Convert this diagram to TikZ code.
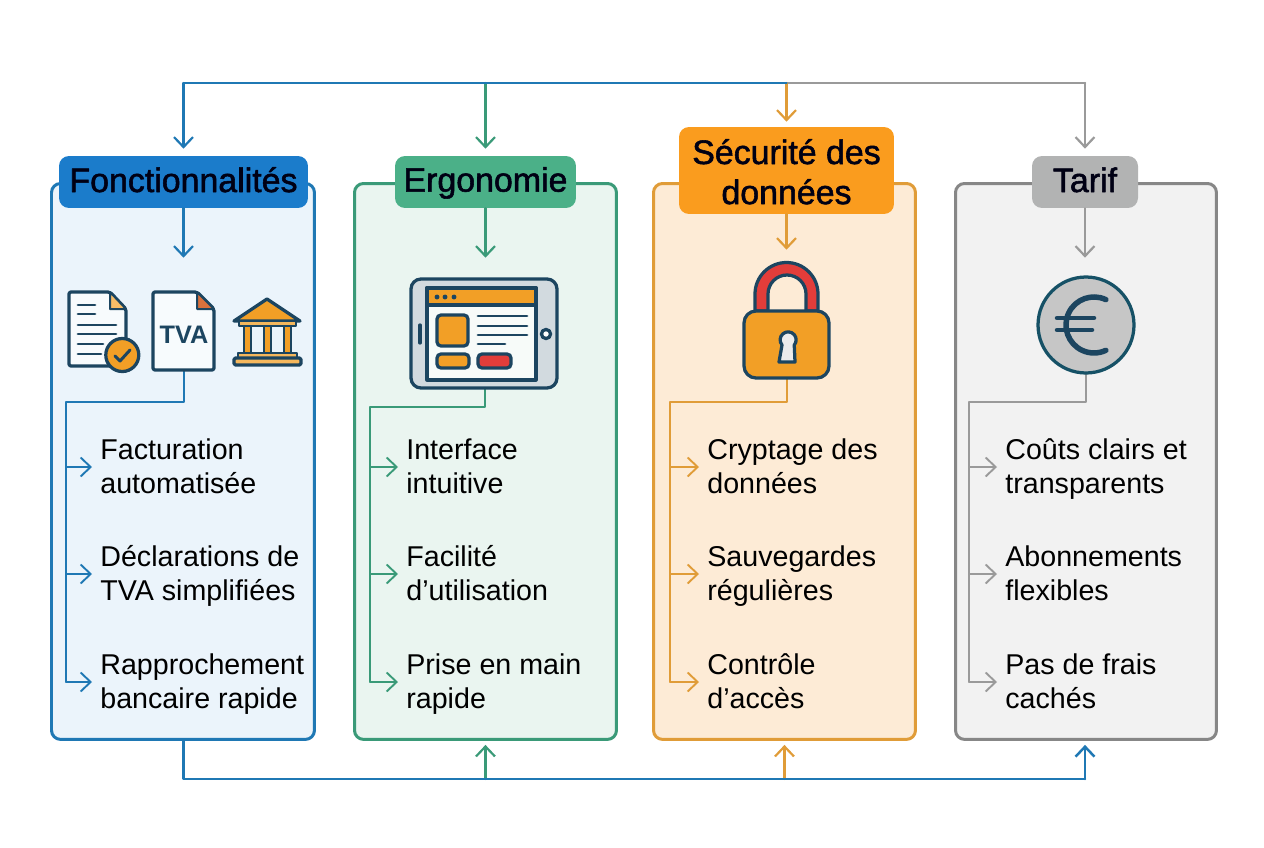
\documentclass[tikz,border=0pt]{standalone}
\usepackage{fontspec}
\setmainfont{Liberation Sans}
\newfontfamily\headfont[FakeBold=1.6]{Liberation Sans}
\usetikzlibrary{arrows.meta, calc}
\definecolor{lineblue}{HTML}{1F78B4}
\definecolor{linegreen}{HTML}{3A9A78}
\definecolor{lineorange}{HTML}{E09C38}
\definecolor{linegray}{HTML}{9A9A9A}
\definecolor{headblue}{HTML}{1B7CCB}
\definecolor{headgreen}{HTML}{4BB088}
\definecolor{headorange}{HTML}{FA9C1E}
\definecolor{headgray}{HTML}{B2B3B3}
\definecolor{fillblue}{HTML}{EBF4FB}
\definecolor{fillgreen}{HTML}{EAF5F0}
\definecolor{fillorange}{HTML}{FDEBD6}
\definecolor{fillgray}{HTML}{F2F2F2}
\definecolor{icondark}{HTML}{1C4560}
\definecolor{iconorange}{HTML}{F29F26}
\definecolor{iconred}{HTML}{E23D3A}
\definecolor{iconfold}{HTML}{D9713C}
\newcommand\vstrut[2]{\rule[-#2]{0pt}{\dimexpr#1+#2\relax}}
\tikzset{
  card/.style={draw=line#1, fill=fill#1, line width=0.06cm, rounded corners=0.18cm, anchor=north west, inner sep=0pt},
  header/.style={fill=head#1, rounded corners=0.2cm, inner sep=0pt, align=center, text=black!92!blue,
    font=\headfont\fontsize{19.3}{22.8}\selectfont},
  item/.style={anchor=west, align=left, inner ysep=0pt, inner xsep=0.16cm, text=black,
    font=\fontsize{16.3}{19.9}\selectfont},
  iconbox/.style={inner sep=0pt},
  link/.style={draw=line#1, line width=0.044cm},
  bus/.style={draw=line#1, line width=0.05cm},
  branch/.style={draw=line#1, line width=0.038cm},
  icon/.style={draw=icondark, line width=0.065cm},
}
\begin{document}
\begin{tikzpicture}[line cap=round,line join=round,>={Straight Barb[length=0.2cm,width=0.38cm]},x=0.02cm,y=-0.02cm]
\useasboundingbox (0,0) rectangle (1264,848);
% cards
\node[card=blue, minimum width=5.26cm, minimum height=11.12cm] (cardF) at (50,182) {};
\node[card=green, minimum width=5.24cm, minimum height=11.12cm] (cardE) at (353,182) {};
\node[card=orange, minimum width=5.24cm, minimum height=11.12cm] (cardS) at (652,182) {};
\node[card=gray, draw=black!47, minimum width=5.22cm, minimum height=11.12cm] (cardT) at (954,182) {};
% headers
\node[header=blue, minimum width=4.98cm, minimum height=1.04cm] (headF) at (183.5,182) {\vstrut{15pt}{3.6pt}Fonctionnalités};
\node[header=green, minimum width=3.62cm, minimum height=1.04cm] (headE) at (485.5,182) {\vstrut{15pt}{3.6pt}Ergonomie};
\node[header=orange, minimum width=4.3cm, minimum height=1.74cm] (headS) at (786.5,170.5) {\vstrut{18pt}{0pt}Sécurité des\\données\vstrut{0pt}{2.6pt}};
\node[header=gray, minimum width=2.12cm, minimum height=1.04cm] (headT) at (1085,182) {\vstrut{15pt}{3.6pt}Tarif};
% icon places
\node[iconbox, minimum width=1.22cm, minimum height=1.56cm] (iconF) at (184,331) {};
\node[iconbox, minimum width=2.92cm, minimum height=2.18cm] (iconE) at (485,333.5) {};
\node[iconbox, minimum width=1.7cm, minimum height=2.3cm] (iconS) at (787,320.5) {};
\node[iconbox, minimum width=1.92cm, minimum height=1.92cm] (iconT) at (1086,325) {};
% items
\foreach \col/\xpos/\a/\b/\c in {
  F/92/{Facturation\\automatisée}/{Déclarations de\\TVA simplifiées}/{Rapprochement\\bancaire rapide},
  E/398/{Interface\\intuitive}/{Facilité\\d’utilisation}/{Prise en main\\rapide},
  S/699/{Cryptage des\\données}/{Sauvegardes\\régulières}/{Contrôle\\d’accès},
  T/997/{Coûts clairs et\\transparents}/{Abonnements\\flexibles}/{Pas de frais\\cachés}}{
  \node[item] (item\col1) at (\xpos,467) {\vstrut{15pt}{0pt}\a\vstrut{0pt}{4.2pt}};
  \node[item] (item\col2) at (\xpos,574) {\vstrut{15pt}{0pt}\b\vstrut{0pt}{4.2pt}};
  \node[item] (item\col3) at (\xpos,682) {\vstrut{15pt}{0pt}\c\vstrut{0pt}{4.2pt}};
}
% top bus
\coordinate (topL) at (183.5,83);
\coordinate (topE) at (485.5,83);
\coordinate (topM) at (786.5,83);
\coordinate (topR) at (1085,83);
\draw[bus=gray] (topM) -- (topR);
\draw[link=blue,->,shorten >=0.14cm] (topL) -- (headF.north);
\draw[link=green,->,shorten >=0.14cm] (topE) -- (headE.north);
\draw[link=orange,->,shorten >=0.1cm] (topM) -- (headS.north);
\draw[link=gray,->,shorten >=0.14cm] (topR) -- (headT.north);
\draw[bus=blue] (topL) -- (topM);
% header to icon
\draw[link=blue,->,shorten >=0.68cm] (headF.south) -- (headF.south |- iconF.north);
\draw[link=green,->,shorten >=0.42cm] (headE.south) -- (headE.south |- iconE.north);
\draw[link=orange,->,shorten >=0.26cm] (headS.south) -- (headS.south |- iconS.north);
\draw[link=gray,->,shorten >=0.38cm] (headT.south) -- (headT.south |- iconT.north);
% branches
\coordinate (spineF) at (66,402);
\coordinate (spineE) at (370,407);
\coordinate (spineS) at (670,402);
\coordinate (spineT) at (969,402);
\foreach \col/\tint in {F/blue,E/green,S/orange,T/gray}{
  \draw[branch=\tint] (icon\col.south) |- (spine\col) -- (spine\col |- item\col3.west);
  \foreach \k in {1,2,3}
    \draw[branch=\tint,->] (spine\col |- item\col\k.west) -- (item\col\k.west);
}
% bottom bus
\coordinate (botL) at (183.5,779);
\coordinate (botR) at (1085,779);
\draw[link=green,->,shorten >=0.08cm] (botL -| cardE.south) -- (cardE.south);
\draw[link=orange,->,shorten >=0.08cm] (botL -| cardS.south) -- (cardS.south);
\draw[bus=blue] (cardF.south -| botL) -- (botL) -- (botR);
\draw[bus=blue,->,shorten >=0.08cm] (botR) -- (cardT.south -| botR);
% invoice icon
\draw[icon,fill=white!60!fillblue,rounded corners=0.04cm] (69,292) -- (110,292) -- (126,309) -- (126,366) -- (69,366) -- cycle;
\draw[icon,fill=iconorange!70!white,line width=0.04cm] (110,292) -- (110,309) -- (126,309) -- cycle;
\foreach \yy/\xx in {305/95,314/95,325/116,334/116,344/103,354/101}
  \draw[icon,line width=0.055cm] (78,\yy) -- (\xx,\yy);
\draw[icon,fill=iconorange] (122.3,355) circle (9.4pt);
\draw[icon,line width=0.06cm] (115,356) -- (120,361) -- (130,350);
% vat icon
\draw[icon,fill=white!60!fillblue,rounded corners=0.04cm] (153,292) -- (197,292) -- (214,309) -- (214,370) -- (153,370) -- cycle;
\draw[icon,fill=iconfold,line width=0.04cm] (197,292) -- (197,309) -- (214,309) -- cycle;
\node[text=icondark,inner sep=0pt,font=\bfseries\fontsize{14.4}{16}\selectfont] (tvaF) at (184,334.5) {TVA};
% bank icon
\draw[icon,fill=iconorange] (267,299) -- (300,321) -- (234,321) -- cycle;
\draw[icon,fill=iconorange!75!white,line width=0.05cm] (239,321) rectangle (296,326);
\foreach \xx in {244,264,284}
  \draw[icon,fill=iconorange,line width=0.05cm] (\xx,326) rectangle (\xx+7,353);
\draw[icon,fill=iconorange!75!white,line width=0.05cm] (238,353) rectangle (297,358);
\draw[icon,fill=iconorange!75!white,rounded corners=0.03cm] (234,358) rectangle (301,365);
% tablet icon
\draw[icon,fill=icondark!20!white,rounded corners=0.2cm] (411,279) rectangle (557,388);
\draw[icon,fill=fillgreen!40!white] (427,288) rectangle (536,380);
\draw[icon,fill=iconorange] (427,288) rectangle (536,305);
\foreach \xx in {437,445,454}
  \fill[icondark] (\xx,297) circle (1.4pt);
\draw[icon,fill=iconorange,rounded corners=0.08cm] (437,315) rectangle (468,346);
\foreach \yy/\xx in {316/527,326/527,335/527,344/505}
  \draw[icon,line width=0.055cm] (478,\yy) -- (\xx,\yy);
\draw[icon,fill=iconorange,rounded corners=0.08cm] (437,354) rectangle (469,368);
\draw[icon,fill=iconred,rounded corners=0.08cm] (478,354) rectangle (511,368);
\draw[icon,fill=white] (546,334) circle (2.6pt);
\draw[icon] (420,325) -- (420,343);
% padlock icon
\draw[icon,fill=iconred] (755,311) -- (755,294) arc[start angle=180,end angle=0,x radius=31.5,y radius=-31.5] -- (818,311) -- (806,311) -- (806,294) arc[start angle=0,end angle=180,x radius=19,y radius=-19] -- (768,311) -- cycle;
\draw[icon,fill=iconorange,rounded corners=0.24cm] (744,311) rectangle (829,378);
\draw[icon,fill=white!85!gray] (782,345) arc[start angle=-140,end angle=-400,radius=0.16cm] -- (795,362) -- (779,362) -- cycle;
% euro icon
\draw[icon,draw=icondark!80!teal,fill=gray!45!white] (iconT.center) circle (0.96cm);
\draw[icon,line width=0.11cm] (1105.8,299.6) arc[start angle=65,end angle=295,radius=0.56cm];
\draw[icon,line width=0.09cm] (1057,318) -- (1094,318);
\draw[icon,line width=0.09cm] (1057,330) -- (1092,330);
\end{tikzpicture}
\end{document}
